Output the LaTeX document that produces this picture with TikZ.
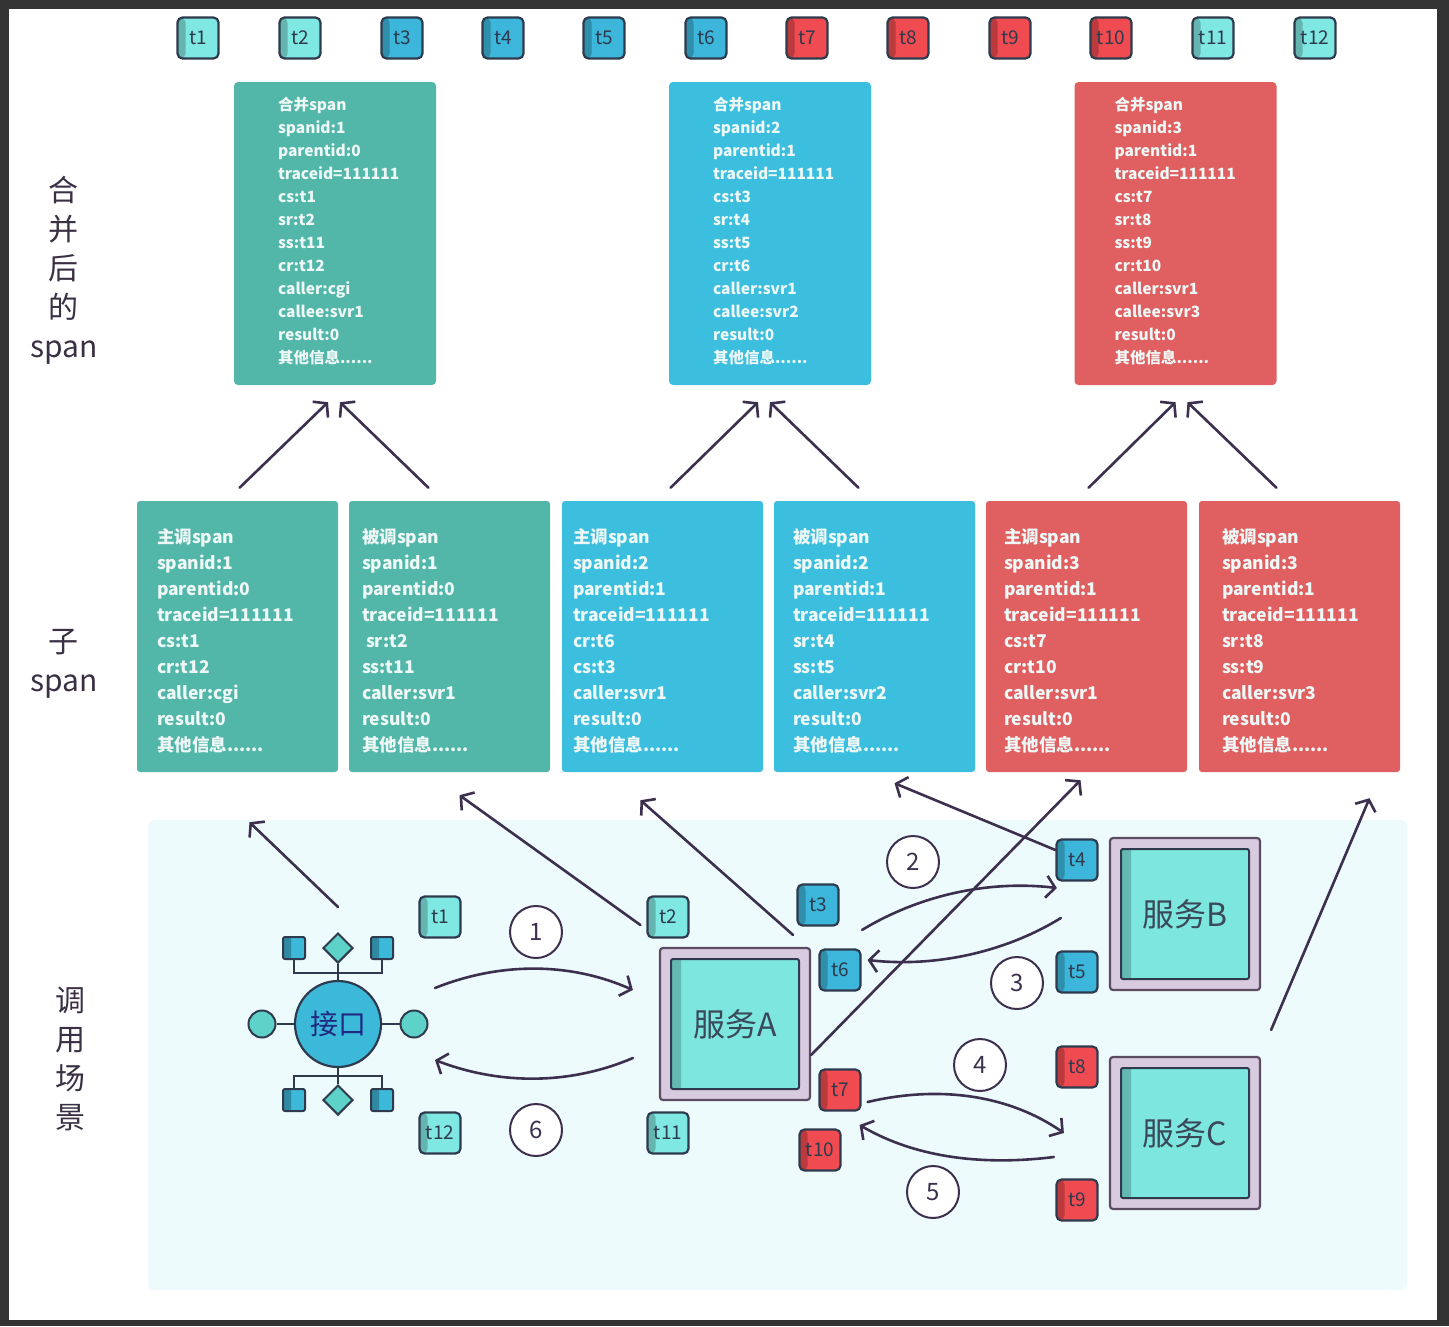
\documentclass[tikz,border=0pt]{standalone}
\usepackage{fontspec}
\setmainfont{Noto Sans CJK SC}
\usetikzlibrary{arrows.meta,shapes.geometric}

\definecolor{framegray}{HTML}{333333}
\definecolor{mteal}{HTML}{52B6A8}
\definecolor{mblue}{HTML}{3CBEDF}
\definecolor{mred}{HTML}{E05F60}
\definecolor{spantxt}{HTML}{EEF8F6}
\definecolor{tagcyan}{HTML}{80E8E2}
\definecolor{tagblue}{HTML}{3CB6DA}
\definecolor{tagred}{HTML}{F04B50}
\definecolor{tagedge}{HTML}{2E3A4D}
\definecolor{arrowc}{HTML}{3D2F4E}
\definecolor{scenebg}{HTML}{EDFBFD}
\definecolor{srvlav}{HTML}{D8CADF}
\definecolor{srvedge}{HTML}{5B4B63}
\definecolor{srvcyan}{HTML}{7DE7DF}
\definecolor{srvtext}{HTML}{3A4858}
\definecolor{labelc}{HTML}{3A3044}
\definecolor{jkblue}{HTML}{3CB8D8}
\definecolor{jkgreen}{HTML}{5ED2C8}

\begin{document}
\begin{tikzpicture}[x=1pt,y=-1pt,
	spanbox/.style={fill=#1, rounded corners=4pt, minimum width=202pt, minimum height=303pt, inner sep=0pt},
	subbox/.style={fill=#1, rounded corners=3pt, minimum width=201pt, minimum height=271pt, inner sep=0pt},
	spantext/.style={anchor=north west, inner sep=0pt, align=left, text=spantxt, font=\fontsize{15.5}{23}\selectfont\bfseries},
	subtext/.style={anchor=north west, inner sep=0pt, align=left, text=spantxt, font=\fontsize{17.5}{26}\selectfont\bfseries},
	tagbox/.style={draw=tagedge, line width=2.2pt, rounded corners=5pt, fill=#1, minimum width=41pt, minimum height=41pt, inner sep=0pt, text=tagedge, font=\fontsize{19}{19}\selectfont,
		path picture={\fill[#1!78!black] (path picture bounding box.north west) rectangle ([xshift=8pt]path picture bounding box.south west);}},
	numcirc/.style={circle, draw=arrowc, line width=2pt, fill=white, minimum size=52pt, inner sep=0pt, text=arrowc, font=\fontsize{24}{24}\selectfont},
	srvout/.style={draw=srvedge, line width=2.2pt, fill=srvlav, rounded corners=3pt, minimum width=150pt, minimum height=152pt, inner sep=0pt},
	srvin/.style={draw=tagedge, line width=2pt, fill=srvcyan, rounded corners=2pt, minimum width=128pt, minimum height=130pt, inner sep=0pt, text=srvtext, font=\fontsize{32}{32}\selectfont,
		path picture={\fill[srvcyan!80!black] (path picture bounding box.north west) rectangle ([xshift=10pt]path picture bounding box.south west);}},
	sidelabel/.style={align=center, text=labelc, font=\fontsize{30}{39}\selectfont},
	arr/.style={draw=arrowc, line width=2.6pt, line cap=round, -{Straight Barb[length=9pt,width=22pt,line width=2.6pt]}},
	iflink/.style={draw=tagedge, line width=2pt},
	ifcore/.style={circle, draw=tagedge, line width=2.2pt, fill=jkblue, minimum size=86pt, inner sep=0pt, text=tagedge!70!blue, font=\fontsize{28}{28}\selectfont},
	ifdot/.style={circle, draw=tagedge, line width=2pt, fill=jkgreen, minimum size=27pt, inner sep=0pt},
	ifsq/.style={draw=tagedge, line width=2pt, fill=jkblue, rounded corners=2pt, minimum size=22pt, inner sep=0pt,
		path picture={\fill[jkblue!75!black] (path picture bounding box.north west) rectangle ([xshift=8pt]path picture bounding box.south west);}},
	ifdia/.style={diamond, draw=tagedge, line width=2pt, fill=jkgreen, minimum width=30pt, minimum height=30pt, inner sep=0pt}]

	\useasboundingbox (0,0) rectangle (1449,1326);
	\fill[framegray] (0,0) rectangle (1449,1326);
	\fill[white] (9,9) rectangle (1437,1320);
	\fill[scenebg, rounded corners=6pt] (148,820) rectangle (1407,1290);

	% time stamps
	\node[tagbox=tagcyan] (t1) at (198,38) {t1};
	\node[tagbox=tagcyan] (t2) at (300,38) {t2};
	\node[tagbox=tagblue] (t3) at (402,38) {t3};
	\node[tagbox=tagblue] (t4) at (503,38) {t4};
	\node[tagbox=tagblue] (t5) at (604,38) {t5};
	\node[tagbox=tagblue] (t6) at (706,38) {t6};
	\node[tagbox=tagred] (t7) at (807,38) {t7};
	\node[tagbox=tagred] (t8) at (908,38) {t8};
	\node[tagbox=tagred] (t9) at (1010,38) {t9};
	\node[tagbox=tagred] (t10) at (1111,38) {t10};
	\node[tagbox=tagcyan] (t11) at (1213,38) {t11};
	\node[tagbox=tagcyan] (t12) at (1315,38) {t12};

	% left labels
	\node[sidelabel] (lab1) at (64,270) {合\\并\\后\\的\\span};
	\node[sidelabel] (lab2) at (64,664) {子\\span};
	\node[sidelabel] (lab3) at (70,1059) {调\\用\\场\\景};

	% merged spans
	\node[spanbox=mteal] (m1) at (335,233.5) {};
	\node[spanbox=mblue] (m2) at (770,233.5) {};
	\node[spanbox=mred] (m3) at (1175.5,233.5) {};
	\node[spantext] (m1t) at ([xshift=44pt,yshift=-15pt]m1.north west) {合并span\\spanid:1\\parentid:0\\traceid=111111\\cs:t1\\sr:t2\\ss:t11\\cr:t12\\caller:cgi\\callee:svr1\\result:0\\其他信息......};
	\node[spantext] (m2t) at ([xshift=44pt,yshift=-15pt]m2.north west) {合并span\\spanid:2\\parentid:1\\traceid=111111\\cs:t3\\sr:t4\\ss:t5\\cr:t6\\caller:svr1\\callee:svr2\\result:0\\其他信息......};
	\node[spantext] (m3t) at ([xshift=40pt,yshift=-15pt]m3.north west) {合并span\\spanid:3\\parentid:1\\traceid=111111\\cs:t7\\sr:t8\\ss:t9\\cr:t10\\caller:svr1\\callee:svr3\\result:0\\其他信息......};

	% child spans
	\node[subbox=mteal] (c1) at (237.5,636.5) {};
	\node[subbox=mteal] (c2) at (449.5,636.5) {};
	\node[subbox=mblue] (c3) at (662.5,636.5) {};
	\node[subbox=mblue] (c4) at (874.5,636.5) {};
	\node[subbox=mred] (c5) at (1086.5,636.5) {};
	\node[subbox=mred] (c6) at (1299.5,636.5) {};
	\node[subtext] (c1t) at ([xshift=20pt,yshift=-27pt]c1.north west) {主调span\\spanid:1\\parentid:0\\traceid=111111\\cs:t1\\cr:t12\\caller:cgi\\result:0\\其他信息......};
	\node[subtext] (c2t) at ([xshift=13pt,yshift=-27pt]c2.north west) {被调span\\spanid:1\\parentid:0\\traceid=111111\\\ sr:t2\\ss:t11\\caller:svr1\\result:0\\其他信息......};
	\node[subtext] (c3t) at ([xshift=11pt,yshift=-27pt]c3.north west) {主调span\\spanid:2\\parentid:1\\traceid=111111\\cr:t6\\cs:t3\\caller:svr1\\result:0\\其他信息......};
	\node[subtext] (c4t) at ([xshift=19pt,yshift=-27pt]c4.north west) {被调span\\spanid:2\\parentid:1\\traceid=111111\\sr:t4\\ss:t5\\caller:svr2\\result:0\\其他信息......};
	\node[subtext] (c5t) at ([xshift=18pt,yshift=-27pt]c5.north west) {主调span\\spanid:3\\parentid:1\\traceid=111111\\cs:t7\\cr:t10\\caller:svr1\\result:0\\其他信息......};
	\node[subtext] (c6t) at ([xshift=23pt,yshift=-27pt]c6.north west) {被调span\\spanid:3\\parentid:1\\traceid=111111\\sr:t8\\ss:t9\\caller:svr3\\result:0\\其他信息......};

	% merge arrows
	\draw[arr] ([xshift=2pt,yshift=13pt]c1.north) -- ([xshift=-7pt,yshift=-17pt]m1.south);
	\draw[arr] ([xshift=-21pt,yshift=13pt]c2.north) -- ([xshift=5pt,yshift=-17pt]m1.south);
	\draw[arr] ([xshift=8pt,yshift=13pt]c3.north) -- ([xshift=-12pt,yshift=-17pt]m2.south);
	\draw[arr] ([xshift=-16pt,yshift=13pt]c4.north) -- ([yshift=-17pt]m2.south);
	\draw[arr] ([xshift=2pt,yshift=13pt]c5.north) -- ([yshift=-17pt]m3.south);
	\draw[arr] ([xshift=-23pt,yshift=13pt]c6.north) -- ([xshift=12pt,yshift=-17pt]m3.south);

	% interface
	\node[ifcore] (jk) at (338,1024) {接口};
	\node[ifdot] (jkL) at (262,1024) {};
	\node[ifdot] (jkR) at (414,1024) {};
	\node[ifsq] (jkq1) at (294,948) {};
	\node[ifsq] (jkq2) at (382,948) {};
	\node[ifsq] (jkq3) at (294,1100) {};
	\node[ifsq] (jkq4) at (382,1100) {};
	\node[ifdia] (jkd1) at (338,948) {};
	\node[ifdia] (jkd2) at (338,1100) {};
	\draw[iflink] (jk) -- (jkL);
	\draw[iflink] (jk) -- (jkR);
	\draw[iflink] (jk) -- (jkd1);
	\draw[iflink] (jk) -- (jkd2);
	\draw[iflink] (jkq1.south) -- ++(0,12.5) -| (jkq2.south);
	\draw[iflink] (jkq3.north) -- ++(0,-12.5) -| (jkq4.north);

	% services
	\node[srvout] (srvA) at (735,1024) {};
	\node[srvin] (srvAin) at (srvA) {服务A};
	\node[srvout] (srvB) at (1185,914) {};
	\node[srvin] (srvBin) at (srvB) {服务B};
	\node[srvout] (srvC) at (1185,1133) {};
	\node[srvin] (srvCin) at (srvC) {服务C};

	% scene time stamps
	\node[tagbox=tagcyan] (s1) at (440,917) {t1};
	\node[tagbox=tagcyan] (s12) at (440,1133) {t12};
	\node[tagbox=tagcyan] (s2) at (668,917) {t2};
	\node[tagbox=tagcyan] (s11) at (668,1133) {t11};
	\node[tagbox=tagblue] (s3) at (818,905) {t3};
	\node[tagbox=tagblue] (s6) at (840,970) {t6};
	\node[tagbox=tagred] (s7) at (840,1090) {t7};
	\node[tagbox=tagred] (s10) at (820,1150) {t10};
	\node[tagbox=tagblue] (s4) at (1077,860) {t4};
	\node[tagbox=tagblue] (s5) at (1077,972) {t5};
	\node[tagbox=tagred] (s8) at (1077,1067) {t8};
	\node[tagbox=tagred] (s9) at (1077,1200) {t9};

	% call order
	\node[numcirc] (n1) at (536,932) {1};
	\node[numcirc] (n2) at (913,862) {2};
	\node[numcirc] (n3) at (1017,983) {3};
	\node[numcirc] (n4) at (980,1065) {4};
	\node[numcirc] (n5) at (933,1192) {5};
	\node[numcirc] (n6) at (536,1130) {6};

	% calls
	\draw[arr] ([xshift=21pt,yshift=36pt]jkR.center) .. controls +(65,-26) and +(-63,-28) .. ([xshift=-26pt,yshift=34pt]srvA.west);
	\draw[arr] ([xshift=-26pt,yshift=-34pt]srvA.west) .. controls +(-63,27) and +(65,25) .. ([xshift=21pt,yshift=-36pt]jkR.center);
	\draw[arr] ([xshift=51pt,yshift=17pt]srvA.north east) .. controls +(58,-35) and +(-68,-8) .. ([xshift=-52pt,yshift=26pt]srvB.west);
	\draw[arr] ([xshift=-48pt,yshift=-4pt]srvB.west) .. controls +(-52,32) and +(72,8) .. ([xshift=6pt,yshift=10pt]s6.east);
	\draw[arr] ([xshift=6pt,yshift=-12pt]s7.east) .. controls +(72,-17) and +(-55,-38) .. ([xshift=-45pt]srvC.west);
	\draw[arr] ([xshift=-55pt,yshift=-24pt]srvC.west) .. controls +(-65,8) and +(60,35) .. ([xshift=18pt,yshift=25pt]s10.east);

	% reports to child spans
	\draw[arr] ([yshift=25pt]jkd1.north) -- ([xshift=12pt,yshift=-50pt]c1.south);
	\draw[arr] ([xshift=-6pt,yshift=-8pt]s2.west) -- ([xshift=10pt,yshift=-23pt]c2.south);
	\draw[arr] ([xshift=58pt,yshift=12pt]srvA.north) -- ([xshift=-22pt,yshift=-28pt]c3.south);
	\draw[arr] ([yshift=10pt]s4.west) -- ([xshift=20pt,yshift=-11pt]c4.south);
	\draw[arr] ([yshift=-31pt]srvA.east) -- ([xshift=-6pt,yshift=-8pt]c5.south);
	\draw[arr] ([xshift=10pt,yshift=26pt]srvC.north east) -- ([xshift=70pt,yshift=-26pt]c6.south);
\end{tikzpicture}
\end{document}
